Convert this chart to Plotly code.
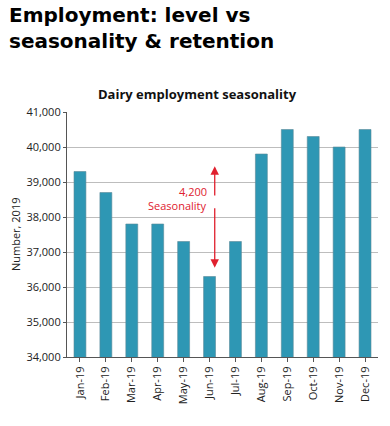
import plotly.graph_objects as go

months = ["Jan-19", "Feb-19", "Mar-19", "Apr-19", "May-19", "Jun-19",
          "Jul-19", "Aug-19", "Sep-19", "Oct-19", "Nov-19", "Dec-19"]
employment = [39300, 38700, 37800, 37800, 37300, 36300,
              37300, 39800, 40500, 40300, 40000, 40500]
y_ticks = [34000, 35000, 36000, 37000, 38000, 39000, 40000, 41000]
arrow_top = 39450
arrow_bottom = 36550
arrow_gap_top = 38570
arrow_gap_bottom = 38290
label_value = "4,200"
label_text = "Seasonality"

W, H = 390, 426
ML, MR, MT, MB = 67, 12, 112, 69
PH = H - MT - MB
PW = W - ML - MR

def py(sy):  # pixel y -> paper y
    return 1 - (sy - MT) / PH

def pxx(sx):  # pixel x -> paper x
    return (sx - ML) / PW

fig = go.Figure()
fig.add_trace(go.Bar(
    x=list(range(len(months))), y=employment,
    marker=dict(color="#2e97b4", line=dict(color="#5a8a99", width=0.6)),
    width=0.46, hoverinfo="skip",
))

red = "#e0202e"
fig.add_annotation(x=5.2, y=arrow_top, ax=5.2, ay=arrow_gap_top,
                   xref="x", yref="y", axref="x", ayref="y",
                   showarrow=True, arrowhead=2, arrowsize=1.3, arrowwidth=1.3,
                   arrowcolor=red, text="")
fig.add_annotation(x=5.2, y=arrow_bottom, ax=5.2, ay=arrow_gap_bottom,
                   xref="x", yref="y", axref="x", ayref="y",
                   showarrow=True, arrowhead=2, arrowsize=1.3, arrowwidth=1.3,
                   arrowcolor=red, text="")
fig.add_annotation(x=4.98, y=38740, xref="x", yref="y", text=label_value,
                   showarrow=False, xanchor="right", yanchor="middle",
                   font=dict(family="Open Sans", size=11, color=red))
fig.add_annotation(x=4.98, y=38330, xref="x", yref="y", text=label_text,
                   showarrow=False, xanchor="right", yanchor="middle",
                   font=dict(family="Open Sans", size=11, color=red))

# subtitle
fig.add_annotation(x=pxx(197), y=py(94), xref="paper", yref="paper",
                   text="<b>Dairy employment seasonality</b>", showarrow=False,
                   xanchor="center", yanchor="middle",
                   font=dict(family="Open Sans", size=13, color="#111"))
# main title
fig.add_annotation(x=pxx(7), y=py(28), xref="paper", yref="paper",
                   text="<b>Employment: level vs<br>seasonality & retention</b>",
                   showarrow=False, align="left",
                   xanchor="left", yanchor="middle",
                   font=dict(family="DejaVu Sans", size=20, color="#000"))
# y axis title
fig.add_annotation(x=pxx(15), y=py(235), xref="paper", yref="paper",
                   text="Number, 2019", textangle=-90, showarrow=False,
                   xanchor="center", yanchor="middle",
                   font=dict(family="Open Sans", size=11, color="#222"))

fig.update_layout(
    width=W, height=H,
    margin=dict(l=ML, r=MR, t=MT, b=MB, autoexpand=False),
    paper_bgcolor="white", plot_bgcolor="white",
    showlegend=False, bargap=0.54,
    xaxis=dict(
        tickmode="array", tickvals=list(range(len(months))), ticktext=months,
        tickangle=-90, range=[-0.5, 11.5], automargin=False,
        showline=True, linecolor="#555", linewidth=1.2,
        ticks="outside", ticklen=4, tickcolor="#555",
        tickfont=dict(family="Open Sans", size=11, color="#222"),
        showgrid=False,
    ),
    yaxis=dict(
        range=[34000, 41000], tickvals=y_ticks, tickformat=",",
        automargin=False,
        showline=True, linecolor="#555", linewidth=1.2,
        ticks="outside", ticklen=3, tickcolor="#555",
        showgrid=True, gridcolor="#bdbdbd", gridwidth=1.3,
        tickfont=dict(family="Open Sans", size=11, color="#222"),
    ),
)

fig.write_html("out.html",
               config={"displayModeBar": False},
               post_script="document.body.style.margin='0';document.body.style.overflow='hidden';")
